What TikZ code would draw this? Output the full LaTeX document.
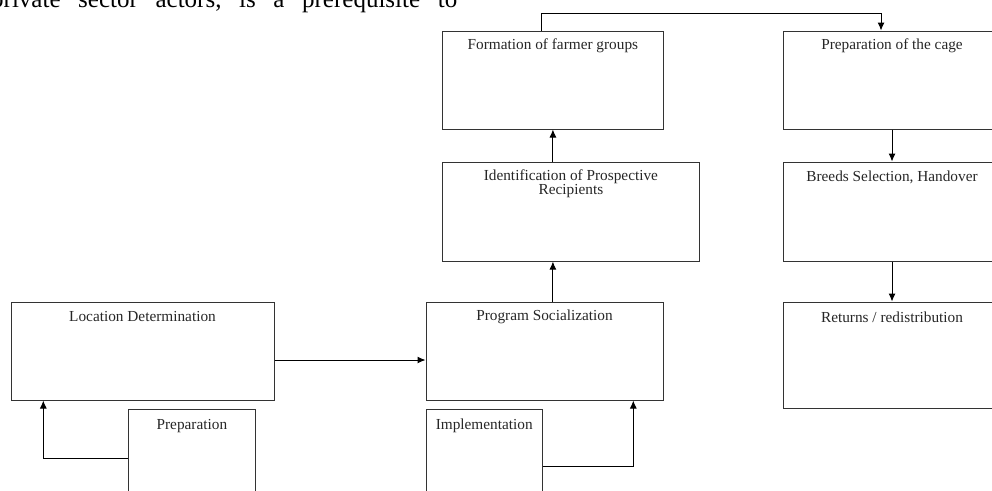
\documentclass[tikz,border=0pt]{standalone}
\usepackage{fontspec}
\setmainfont{Liberation Serif}
\usetikzlibrary{arrows.meta}
\tikzset{
  box/.style={draw=black!80, line width=1pt, rectangle, inner sep=0pt},
  lbl/.style={inner sep=0pt, align=center, font=\fontsize{15.3}{12}\selectfont, text=black!85},
  conn/.style={draw=black, line width=1pt},
  arr/.style={conn, -{Latex[length=8pt,width=7pt]}},
}
\begin{document}
\begin{tikzpicture}[x=1pt,y=-1pt]
\useasboundingbox (0,0) rectangle (992,490);
\clip (0,0) rectangle (992,490);
% top running text
\node[anchor=base west, inner sep=0pt, font=\fontsize{25}{25}\selectfont] (para) at (-9,7.5)
  {\hbox to 466pt{private\hfill sector\hfill actors,\hfill is\hfill a\hfill prerequisite\hfill to}};
% boxes
\node[box, minimum width=263pt, minimum height=98pt] (loc) at (142.5,351) {};
\node[box, minimum width=126.3pt, minimum height=101pt] (prep) at (191.9,459.5) {};
\node[box, minimum width=237pt, minimum height=98pt] (prog) at (544.5,351) {};
\node[box, minimum width=116.3pt, minimum height=101pt] (impl) at (484.2,459.5) {};
\node[box, minimum width=256.3pt, minimum height=98.3pt] (ident) at (570.9,211.9) {};
\node[box, minimum width=220.3pt, minimum height=98pt] (form) at (552.9,80) {};
\node[box, minimum width=218pt, minimum height=98pt] (cage) at (892,80) {};
\node[box, minimum width=218pt, minimum height=99pt] (breed) at (892,211.5) {};
\node[box, minimum width=218pt, minimum height=106pt] (ret) at (892,355) {};
% labels
\node[lbl] (locT) at ([yshift=-15.5pt]loc.north) {Location Determination};
\node[lbl] (prepT) at ([yshift=-17.5pt]prep.north) {Preparation};
\node[lbl] (progT) at ([yshift=-15.5pt]prog.north) {Program Socialization};
\node[lbl] (implT) at ([yshift=-17.5pt]impl.north) {Implementation};
\node[lbl] (identT) at ([yshift=-21.5pt]ident.north) {Identification of Prospective\\Recipients};
\node[lbl] (formT) at ([yshift=-15.5pt]form.north) {Formation of farmer groups};
\node[lbl] (cageT) at ([yshift=-15.5pt]cage.north) {Preparation of the cage};
\node[lbl] (breedT) at ([yshift=-15.5pt]breed.north) {Breeds Selection, Handover};
\node[lbl] (retT) at ([yshift=-16pt]ret.north) {Returns / redistribution};
% connectors
\draw[arr] ([yshift=-9pt]loc.east) -- ([yshift=-9pt]loc.east -| prog.west);
\draw[arr] ([yshift=1pt]prep.west) -| ([xshift=-99.2pt]loc.south);
\draw[arr] ([yshift=-6.5pt]impl.east) -| ([xshift=88.8pt]prog.south);
\draw[arr] (prog.north -| form.south) -- (ident.south -| form.south);
\draw[arr] (ident.north -| form.south) -- (form.south);
\coordinate (topA) at ([xshift=-11pt,yshift=17pt]form.north);
\draw[arr] ([xshift=-11pt]form.north) -- (topA) -| ([xshift=-11pt]cage.north);
\draw[arr] (cage.south) -- (breed.north);
\draw[arr] (breed.south) -- (ret.north);
\end{tikzpicture}
\end{document}
